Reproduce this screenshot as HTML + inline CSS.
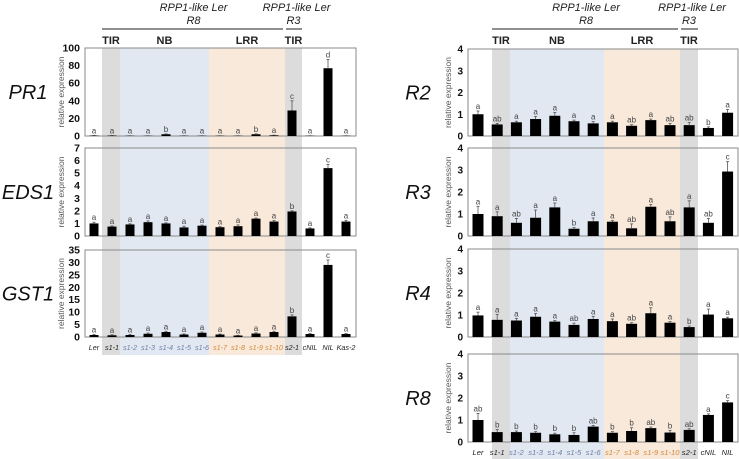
<!DOCTYPE html>
<html><head><meta charset="utf-8"><style>
html,body{margin:0;padding:0;background:#fff;width:739px;height:459px;overflow:hidden}
svg{display:block;font-family:"Liberation Sans",Arial,sans-serif}
</style></head><body>
<svg id="fig" width="739" height="459" viewBox="0 0 739 459"></svg>
<script>
const leftCats=["Ler","s1-1","s1-2","s1-3","s1-4","s1-5","s1-6","s1-7","s1-8","s1-9","s1-10","s2-1","cNIL","NIL","Kas-2"];
const rightCats=["Ler","s1-1","s1-2","s1-3","s1-4","s1-5","s1-6","s1-7","s1-8","s1-9","s1-10","s2-1","cNIL","NIL"];
const pr1Vals=[0.5,0.5,0.3,0.3,2,0.3,0.3,0.3,0.3,2,0.8,29,0.3,77,0.3];
const pr1Err=[0.2,0.2,0.1,0.1,0.4,0.1,0.1,0.1,0.1,0.4,0.2,11,0.1,10,0.1];
const pr1Let=["a","a","a","a","b","a","a","a","a","b","a","c","a","d","a"];
const eds1Vals=[1,0.75,0.92,1.1,1.0,0.68,0.82,0.7,0.78,1.38,1.15,1.95,0.6,5.4,1.15];
const eds1Err=[0.1,0.05,0.05,0.1,0.05,0.1,0.05,0.05,0.1,0.05,0.08,0.05,0.05,0.3,0.1];
const eds1Let=["a","a","a","a","a","a","a","a","a","a","a","b","a","c","a"];
const gst1Vals=[0.8,0.7,0.8,1.3,2,1,1.7,1,0.6,1.4,2,8.3,1.2,29,1.2];
const gst1Err=[0.2,0.2,0.2,0.3,0.3,0.2,0.3,0.2,0.1,0.3,0.3,0.6,0.2,2,0.2];
const gst1Let=["a","a","a","a","a","a","a","a","a","a","a","b","a","c","a"];
const r2Vals=[1,0.53,0.63,0.78,0.93,0.68,0.58,0.63,0.47,0.73,0.5,0.5,0.37,1.07];
const r2Err=[0.15,0.05,0.05,0.12,0.15,0.05,0.08,0.05,0.05,0.05,0.08,0.12,0.05,0.15];
const r2Let=["a","ab","a","a","a","a","a","a","ab","a","ab","ab","b","a"];
const r3Vals=[1,0.9,0.6,0.83,1.3,0.33,0.67,0.65,0.35,1.33,0.67,1.3,0.6,2.93];
const r3Err=[0.35,0.2,0.2,0.35,0.2,0.05,0.15,0.05,0.2,0.1,0.2,0.3,0.2,0.45];
const r3Let=["a","a","ab","a","a","b","a","a","ab","a","ab","a","ab","c"];
const r4Vals=[0.98,0.78,0.75,0.92,0.7,0.55,0.82,0.72,0.6,1.08,0.65,0.45,1.02,0.85];
const r4Err=[0.15,0.25,0.1,0.15,0.05,0.08,0.12,0.1,0.05,0.25,0.05,0.05,0.25,0.05];
const r4Let=["a","a","a","a","a","ab","a","a","ab","a","a","b","a","a"];
const r8Vals=[1,0.45,0.45,0.42,0.35,0.32,0.7,0.42,0.5,0.63,0.43,0.55,1.23,1.8];
const r8Err=[0.3,0.12,0.05,0.05,0.05,0.1,0.05,0.05,0.15,0.05,0.1,0.05,0.05,0.08];
const r8Let=["ab","b","b","b","b","b","ab","b","b","ab","b","ab","a","c"];
const pr1Ticks=[0,20,40,60,80,100];
const eds1Ticks=[0,1,2,3,4,5,6,7];
const gst1Ticks=[0,5,10,15,20,25,30,35];
const rTicks=[0,1,2,3,4];

const NS="http://www.w3.org/2000/svg";
const svg=document.getElementById('fig');
function mk(tag,attrs,parent,text){const e=document.createElementNS(NS,tag);for(const k in attrs)e.setAttribute(k,attrs[k]);if(text!==undefined)e.textContent=text;(parent||svg).appendChild(e);return e;}
const catColor=c=>{const n=c.match(/^s1-(\d+)$/);if(!n)return "#222";const i=+n[1];if(i>=2&&i<=6)return "#6c80a8";if(i>=7)return "#d58a3c";return "#222";};

function panelBg(x0,x1,x2,x3,x4,yTop,yBot){
  let r;
  r=mk('rect',{x:x0,y:yTop,width:x1-x0,height:yBot-yTop,fill:'#dcdcdc'});
  
  r=mk('rect',{x:x1,y:yTop,width:x2-x1,height:yBot-yTop,fill:'#e2e8f2'});
  
  r=mk('rect',{x:x2,y:yTop,width:x3-x2,height:yBot-yTop,fill:'#f8e9da'});
  
  r=mk('rect',{x:x3,y:yTop,width:x4-x3,height:yBot-yTop,fill:'#dcdcdc'});
  
}
function header(x0,x1,x2,x3,x4){
  const g=mk('g',{});
  mk('text',{x:(x0+x3)/2,y:11,'font-size':11,'font-style':'italic','text-anchor':'middle',fill:'#222'},g,'RPP1-like Ler');
  mk('text',{x:(x0+x3)/2,y:24,'font-size':11,'font-style':'italic','text-anchor':'middle',fill:'#222'},g,'R8');
  mk('text',{x:(x3+x4)/2+3,y:11,'font-size':11,'font-style':'italic','text-anchor':'middle',fill:'#222'},g,'RPP1-like Ler');
  mk('text',{x:(x3+x4)/2,y:24,'font-size':11,'font-style':'italic','text-anchor':'middle',fill:'#222'},g,'R3');
  mk('line',{x1:x0,x2:x3-2,y1:29,y2:29,stroke:'#222','stroke-width':1},g);
  mk('line',{x1:x3+1,x2:x4,y1:29,y2:29,stroke:'#222','stroke-width':1},g);
  const lb=[["TIR",(x0+x1)/2],["NB",(x1+x2)/2],["LRR",(x2+x3)/2],["TIR",(x3+x4)/2]];
  lb.forEach(l=>mk('text',{x:l[1],y:44,'font-size':11,'font-weight':'bold','text-anchor':'middle',fill:'#222'},g,l[0]));
}
function chart(o){
  const g=mk('g',{});
  const max=o.ticks[o.ticks.length-1];
  const y=v=>o.y0-(v/max)*(o.y0-o.yTop);
  const x=i=>o.xFirst+i*o.step;
  mk('rect',{x:o.fx0,y:o.yTop,width:o.fx1-o.fx0,height:o.y0-o.yTop,fill:'none',stroke:'#8a8a8a','stroke-width':1},g);
  o.ticks.forEach(t=>{const e=mk('text',{x:o.fx0-5,y:y(t)+3.5,'font-size':o.tfs,'font-weight':'bold','text-anchor':'end',fill:'#111'},g,String(t));
    });
  const yt=mk('text',{transform:`translate(${o.fx0-o.ytOff},${(o.yTop+o.y0)/2}) rotate(-90)`,'font-size':8.5,'text-anchor':'middle',fill:'#555'},g,'relative expression');
  
  const gl=mk('text',{x:o.gx,y:(o.yTop+o.y0)/2+7,'font-size':20,'font-style':'italic','text-anchor':'middle',fill:'#111'},g,o.gene);
  
  o.vals.forEach((v,i)=>{
    const cx=x(i);
    const b=mk('rect',{x:cx-o.bw/2,y:y(v),width:o.bw,height:o.y0-y(v),fill:'#000'},g);
    
    const te=y(v+o.err[i]);
    mk('line',{x1:cx,x2:cx,y1:y(v),y2:te,stroke:'#555','stroke-width':0.8},g);
    mk('line',{x1:cx-1.5,x2:cx+1.5,y1:te,y2:te,stroke:'#555','stroke-width':0.8},g);
    const l=mk('text',{x:cx,y:te-2,'font-size':8,'text-anchor':'middle',fill:'#444'},g,o.lets[i]);
    
  });
  if(o.xlabels){o.cats.forEach((c,i)=>{const t=mk('text',{x:x(i),y:o.y0+13,'font-size':o.xfs,'font-style':'italic','text-anchor':'middle',fill:catColor(c)},g,c);
    });}
}
// left
panelBg(102,120,209,285,302,48,355);
header(102,120,209,285,302);
const L={fx0:85,fx1:356,xFirst:94,step:18,bw:9,cats:leftCats,gx:28,tfs:10.5,ytOff:21,xfs:7.2};
chart(Object.assign({},L,{name:'pr1',gene:'PR1',yTop:48,y0:136,ticks:pr1Ticks,vals:pr1Vals,err:pr1Err,lets:pr1Let}));
chart(Object.assign({},L,{name:'eds1',gene:'EDS1',yTop:148,y0:236,ticks:eds1Ticks,vals:eds1Vals,err:eds1Err,lets:eds1Let}));
chart(Object.assign({},L,{name:'gst1',gene:'GST1',yTop:250,y0:337,ticks:gst1Ticks,vals:gst1Vals,err:gst1Err,lets:gst1Let,xlabels:true}));
// right
panelBg(492,510,604,680,698,49,459);
header(492,510,604,680,698);
const R={fx0:468,fx1:738,xFirst:478,step:19.2,bw:11,cats:rightCats,gx:418,tfs:10,ytOff:17,ticks:rTicks,xfs:7.6};
chart(Object.assign({},R,{name:'r2',gene:'R2',yTop:49,y0:136,vals:r2Vals,err:r2Err,lets:r2Let}));
chart(Object.assign({},R,{name:'r3',gene:'R3',yTop:148,y0:236,vals:r3Vals,err:r3Err,lets:r3Let}));
chart(Object.assign({},R,{name:'r4',gene:'R4',yTop:249,y0:337,vals:r4Vals,err:r4Err,lets:r4Let}));
chart(Object.assign({},R,{name:'r8',gene:'R8',yTop:354,y0:442,vals:r8Vals,err:r8Err,lets:r8Let,xlabels:true}));
</script>
</body></html>
